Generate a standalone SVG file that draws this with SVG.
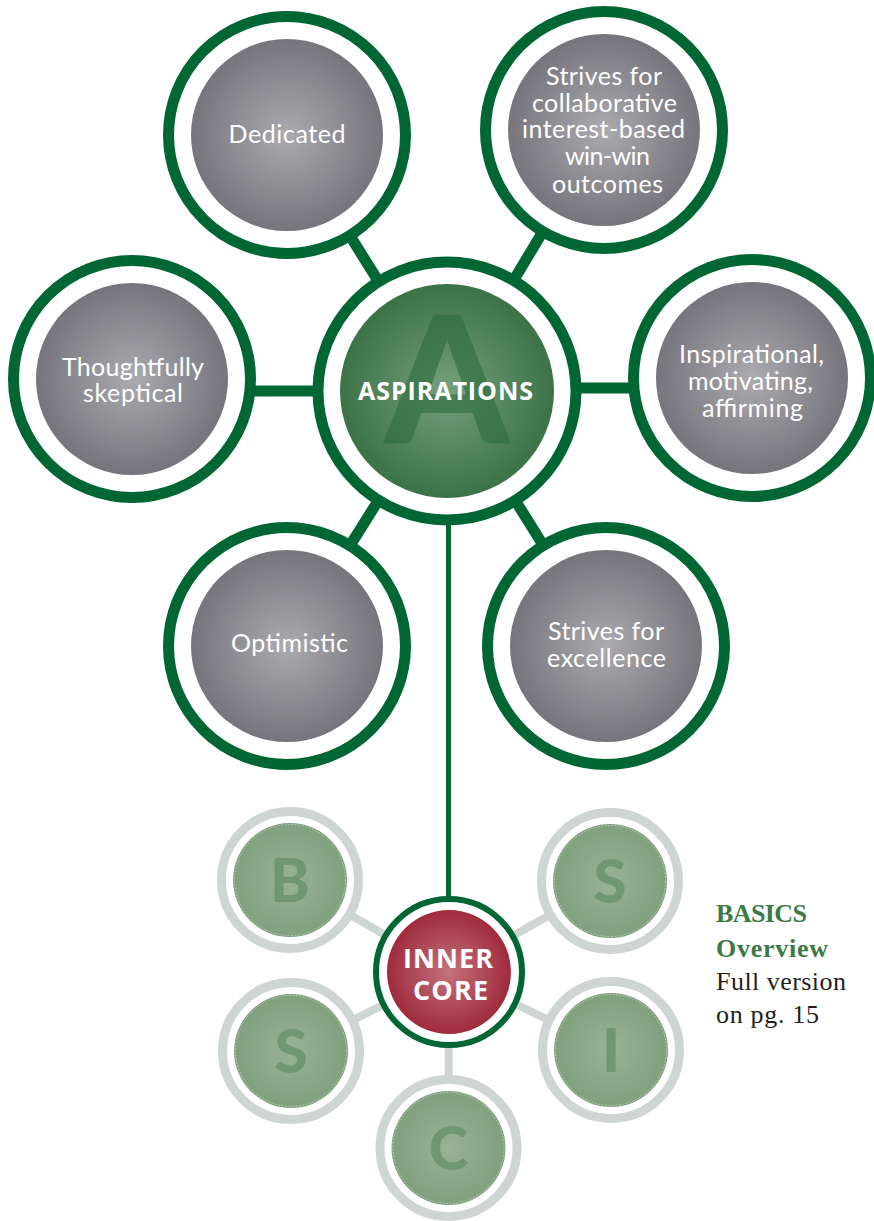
<svg xmlns="http://www.w3.org/2000/svg" width="874" height="1221" viewBox="0 0 874 1221">
<defs>
<radialGradient id="gGray" cx="50%" cy="50%" r="50%">
<stop offset="0" stop-color="#abaaaf"/>
<stop offset="1" stop-color="#76757b"/>
</radialGradient>
<radialGradient id="gGreen" cx="50%" cy="50%" r="50%">
<stop offset="0" stop-color="#76a07c"/>
<stop offset="1" stop-color="#3c7247"/>
</radialGradient>
<radialGradient id="gRed" cx="50%" cy="50%" r="50%">
<stop offset="0" stop-color="#c4727a"/>
<stop offset="1" stop-color="#9f2b3d"/>
</radialGradient>
<radialGradient id="gSmall" cx="50%" cy="50%" r="50%">
<stop offset="0" stop-color="#98b394"/>
<stop offset="1" stop-color="#80a07e"/>
</radialGradient>
<style>
.ring{fill:#fff;stroke:#006633;stroke-width:11}
.gray{fill:url(#gGray)}
.lbl{font-family:Lato,"Open Sans","Liberation Sans",sans-serif;font-size:25px;fill:#fff;text-anchor:middle}
.conn{stroke:#006633;stroke-width:11;stroke-linecap:butt}
.gconn{stroke:#cfd5d3;stroke-width:8}
.sring{fill:#fff;stroke:#cfd5d3;stroke-width:9}
.sfill{fill:url(#gSmall)}
.sdash{fill:none;stroke:#ffffff;stroke-opacity:0.55;stroke-width:0.7;stroke-dasharray:2 1.5}
.slet{font-family:Lato,"Open Sans","Liberation Sans",sans-serif;font-weight:900;font-size:60px;fill:#719772;text-anchor:middle}
.bold{font-family:"Open Sans",Lato,"Liberation Sans",sans-serif;font-weight:700;fill:#fff;text-anchor:middle}
.side{font-family:"Liberation Serif",serif;font-size:26px}
</style>
</defs>
<rect width="874" height="1221" fill="#fff"/>
<g id="connectors">
<line class="conn" x1="447" y1="391" x2="287" y2="135"/>
<line class="conn" x1="447" y1="391" x2="604" y2="130"/>
<line class="conn" x1="447" y1="391" x2="132" y2="391"/>
<line class="conn" x1="447" y1="388" x2="752" y2="388"/>
<line class="conn" x1="447" y1="391" x2="287" y2="646"/>
<line class="conn" x1="447" y1="391" x2="606" y2="646"/>
<line x1="448.5" y1="391" x2="448.5" y2="972" stroke="#006633" stroke-width="5"/>
<line class="gconn" x1="449" y1="972" x2="290" y2="880"/>
<line class="gconn" x1="449" y1="972" x2="610" y2="881"/>
<line class="gconn" x1="449" y1="972" x2="291" y2="1051"/>
<line class="gconn" x1="449" y1="972" x2="611" y2="1050"/>
<line class="gconn" x1="449" y1="972" x2="448.5" y2="1148"/>
</g>
<g id="node-dedicated">
<circle class="ring" cx="287" cy="135" r="118.5"/>
<circle class="gray" cx="287" cy="135" r="96"/>
<text class="lbl" x="287" y="143" textLength="117">Dedicated</text>
</g>
<g id="node-collaborative">
<circle class="ring" cx="604" cy="130" r="118.5"/>
<circle class="gray" cx="604" cy="130" r="96"/>
<text class="lbl" x="604" y="85" textLength="116">Strives for</text>
<text class="lbl" x="604.5" y="112" textLength="145">collaborative</text>
<text class="lbl" x="603.5" y="138" textLength="163">interest-based</text>
<text class="lbl" x="607.5" y="165" textLength="85">win-win</text>
<text class="lbl" x="607.5" y="193" textLength="111">outcomes</text>
</g>
<g id="node-thoughtfully">
<circle class="ring" cx="132" cy="379" r="118.5"/>
<circle class="gray" cx="132" cy="379" r="96"/>
<text class="lbl" x="133" y="376" textLength="142">Thoughtfully</text>
<text class="lbl" x="133" y="402" textLength="100">skeptical</text>
</g>
<g id="node-inspirational">
<circle class="ring" cx="752" cy="378" r="118.5"/>
<circle class="gray" cx="752" cy="378" r="96"/>
<text class="lbl" x="751.5" y="363" textLength="145">Inspirational,</text>
<text class="lbl" x="750.5" y="390" textLength="125">motivating,</text>
<text class="lbl" x="752.5" y="417" textLength="101">affirming</text>
</g>
<g id="node-optimistic">
<circle class="ring" cx="287" cy="646" r="118.5"/>
<circle class="gray" cx="287" cy="646" r="96"/>
<text class="lbl" x="289.5" y="652" textLength="117">Optimistic</text>
</g>
<g id="node-excellence">
<circle class="ring" cx="606" cy="646" r="118.5"/>
<circle class="gray" cx="606" cy="646" r="96"/>
<text class="lbl" x="606" y="640" textLength="116">Strives for</text>
<text class="lbl" x="606.5" y="667" textLength="119">excellence</text>
</g>
<g id="node-aspirations">
<circle class="ring" cx="447" cy="391" r="129"/>
<circle fill="url(#gGreen)" cx="447" cy="391" r="107"/>
<text x="447" y="443" font-family="Lato,'Open Sans','Liberation Sans',sans-serif" font-weight="900" font-size="178" fill="#2c6a3c" fill-opacity="0.6" text-anchor="middle">A</text>
<text class="bold" x="445.5" y="400" font-size="25" textLength="175">ASPIRATIONS</text>
</g>
<g id="node-b">
<circle class="sring" cx="290" cy="880" r="68.5"/>
<circle class="sfill" cx="290" cy="880" r="57"/>
<circle class="sdash" cx="290" cy="880" r="55.5"/>
<text class="slet" x="290" y="902">B</text>
</g>
<g id="node-s1">
<circle class="sring" cx="610" cy="881" r="68.5"/>
<circle class="sfill" cx="610" cy="881" r="57"/>
<circle class="sdash" cx="610" cy="881" r="55.5"/>
<text class="slet" x="610" y="903">S</text>
</g>
<g id="node-s2">
<circle class="sring" cx="291" cy="1051" r="68.5"/>
<circle class="sfill" cx="291" cy="1051" r="57"/>
<circle class="sdash" cx="291" cy="1051" r="55.5"/>
<text class="slet" x="291" y="1073">S</text>
</g>
<g id="node-i">
<circle class="sring" cx="611" cy="1050" r="68.5"/>
<circle class="sfill" cx="611" cy="1050" r="57"/>
<circle class="sdash" cx="611" cy="1050" r="55.5"/>
<text class="slet" x="611" y="1072">I</text>
</g>
<g id="node-c">
<circle class="sring" cx="448.5" cy="1148" r="68.5"/>
<circle class="sfill" cx="448.5" cy="1148" r="57"/>
<circle class="sdash" cx="448.5" cy="1148" r="55.5"/>
<text class="slet" x="448.5" y="1170">C</text>
</g>
<g id="node-inner-core">
<circle fill="#fff" stroke="#006633" stroke-width="6" cx="449" cy="972" r="73"/>
<circle fill="url(#gRed)" cx="449" cy="972" r="62"/>
<text class="bold" x="448" y="968" font-size="27" textLength="90">INNER</text>
<text class="bold" x="450.5" y="1000" font-size="27" textLength="75">CORE</text>
</g>
<g id="note">
<text class="side" x="716" y="922" font-weight="700" fill="#3b7a47" textLength="91">BASICS</text>
<text class="side" x="716" y="957" font-weight="700" fill="#3b7a47" textLength="112">Overview</text>
<text class="side" x="716" y="990" fill="#231f20" textLength="130">Full version</text>
<text class="side" x="716" y="1023" fill="#231f20" textLength="103">on pg. 15</text>
</g>
</svg>
